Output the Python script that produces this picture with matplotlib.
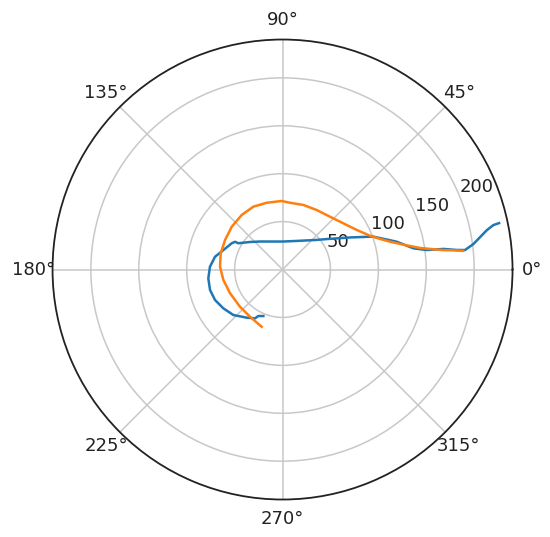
import numpy as np
import matplotlib
matplotlib.use("Agg")
import matplotlib.pyplot as plt

# Blue series (theta in degrees, r in data units)
blue_theta = [247.6, 242.5, 240.6, 233.4, 222.8, 213.2, 204.3, 195.8, 186.8, 177.8,
              169.3, 161.8, 152.7, 149.7, 149.3, 139.8, 128.8, 114.1, 89.0, 66.3,
              52.2, 42.2, 34.4, 25.4, 20.0, 13.7, 9.2, 7.7, 7.3, 6.4,
              6.1, 7.6, 10.9, 11.9, 12.1]
blue_r = [52.5, 54.7, 58.5, 62.6, 69.9, 73.9, 77.3, 78.6, 78.0, 75.8,
          71.7, 65.0, 59.7, 57.4, 53.7, 44.5, 37.5, 32.0, 29.2, 32.5,
          38.3, 45.8, 56.3, 78.0, 100.5, 122.6, 138.3, 151.9, 169.2, 183.0,
          191.5, 200.9, 217.1, 224.8, 231.1]

# Orange series
orange_theta = [250.0, 235.5, 221.2, 204.4, 190.1, 177.4, 165.3, 152.8, 139.9, 126.8,
                114.9, 103.3, 90.7, 83.6, 72.1, 60.1, 48.0, 37.2, 28.0, 21.1,
                17.4, 14.5, 11.3, 8.9, 6.9, 6.4, 5.9]
orange_r = [63.6, 59.8, 59.0, 60.1, 62.7, 65.3, 66.7, 67.4, 69.3, 71.1,
            72.3, 71.6, 71.5, 70.1, 70.8, 71.6, 74.1, 79.7, 87.8, 97.9,
            106.7, 115.9, 130.4, 145.3, 168.8, 179.1, 189.4]

r_max = 240
r_ticks = [50, 100, 150, 200]

plt.rcParams['font.size'] = 13

fig = plt.figure(figsize=(5.5, 5.37), dpi=100)
ax = fig.add_axes([0.0955, 0.0698, 0.8364, 0.8566], projection='polar')
ax.plot(np.deg2rad(blue_theta), blue_r, color='#1f77b4', lw=1.8)
ax.plot(np.deg2rad(orange_theta), orange_r, color='#ff7f0e', lw=1.8)
ax.set_ylim(0, r_max)
ax.set_rticks(r_ticks)
ax.grid(True, color='#c8c8c8', lw=1.1)
ax.spines['polar'].set_color('#222222')
ax.spines['polar'].set_linewidth(1.3)
ax.tick_params(axis='both', labelsize=13, colors='#222222')

fig.savefig("out.png", dpi=100)
